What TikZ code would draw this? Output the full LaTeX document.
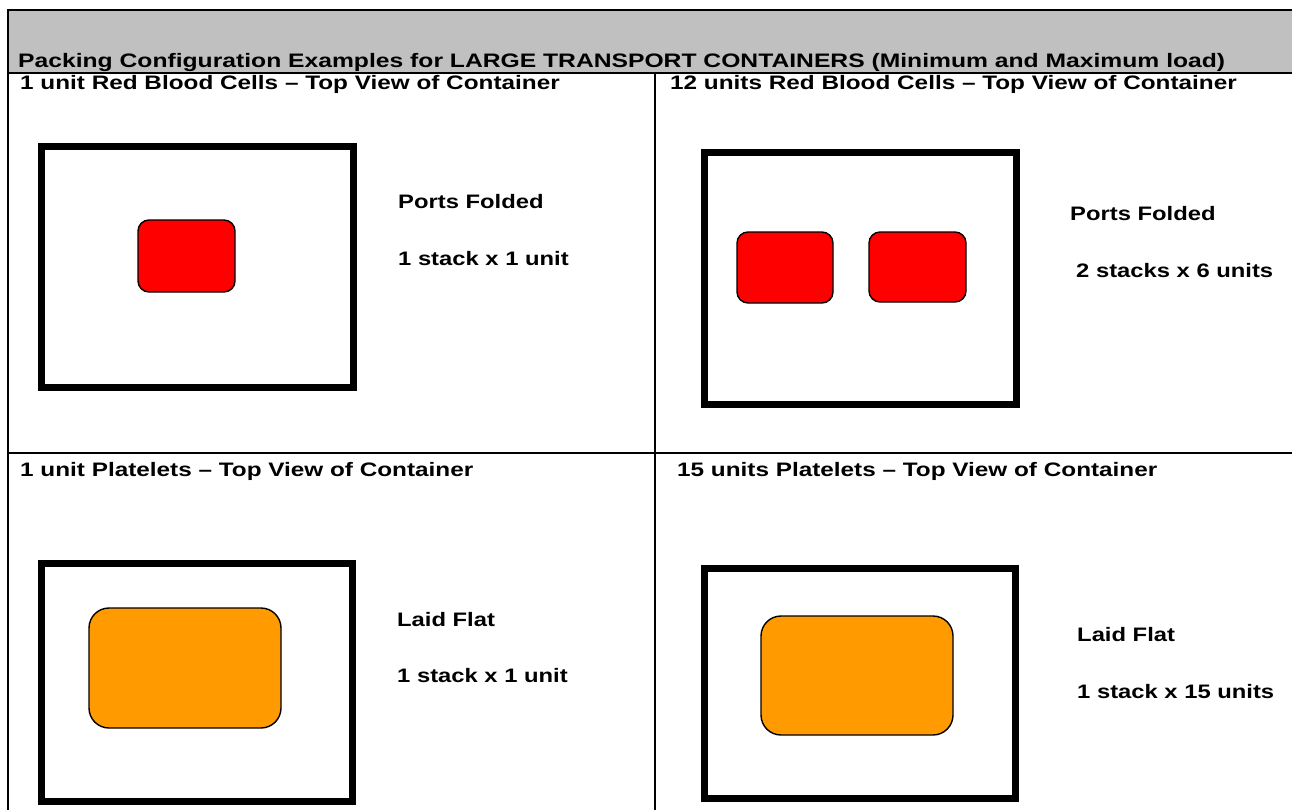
\documentclass[tikz,border=0pt]{standalone}
\usepackage{fontspec}
\setmainfont{Liberation Sans}
\newfontfamily\titlefont[FakeStretch=1.265]{Liberation Sans}
\newfontfamily\headfont[FakeStretch=1.247]{Liberation Sans}
\newfontfamily\notefont[FakeStretch=1.22]{Liberation Sans}
\begin{document}
\begin{tikzpicture}[x=1pt,y=-1pt,
  rule/.style={line width=2.2pt,black},
  heading/.style={anchor=base west,inner sep=0pt,font=\headfont\bfseries\fontsize{19.5}{22}\selectfont},
  note/.style={anchor=base west,inner sep=0pt,font=\notefont\bfseries\fontsize{19.5}{22}\selectfont},
  crate/.style={draw=black,line width=7pt,fill=white,inner sep=0pt},
  rbc/.style={draw=black,line width=1.4pt,fill=red,rounded corners=11pt,inner sep=0pt},
  plt/.style={draw=black,line width=1.4pt,fill=pltorange,rounded corners=20pt,inner sep=0pt}]
\definecolor{pltorange}{HTML}{FF9A00}
\definecolor{headgray}{HTML}{C0C0C0}
\useasboundingbox (0,0) rectangle (1292,809);

% header band
\fill[headgray] (8,10) rectangle (1300,73);
\draw[rule] (8,830) -- (8,10) -- (1300,10);
\draw[rule] (8,73) -- (1300,73);
\draw[rule] (8,453) -- (1300,453);
\draw[rule] (655,73) -- (655,830);

\node[heading,font=\titlefont\bfseries\fontsize{19.5}{22}\selectfont] (title) at (18,67.5) {Packing Configuration Examples for LARGE TRANSPORT CONTAINERS (Minimum and Maximum load)};
\node[heading] (h1) at (20,89) {1 unit Red Blood Cells – Top View of Container};
\node[heading] (h2) at (670,89) {12 units Red Blood Cells – Top View of Container};
\node[heading] (h3) at (20,476.5) {1 unit Platelets – Top View of Container};
\node[heading] (h4) at (677,476.5) {15 units Platelets – Top View of Container};

% top left: one red cell unit
\node[crate,minimum width=312pt,minimum height=241pt] (c1) at (197.5,267) {};
\node[rbc,minimum width=97pt,minimum height=72pt] (r1) at (186.5,256) {};
\node[note] (t1a) at (398,208) {Ports Folded};
\node[note] (t1b) at (398,265) {1 stack x 1 unit};

% top right: two stacks of red cells
\node[crate,minimum width=312pt,minimum height=252pt] (c2) at (860.5,278.5) {};
\node[rbc,minimum width=96pt,minimum height=71pt] (r2a) at (785,267.5) {};
\node[rbc,minimum width=97pt,minimum height=70pt] (r2b) at (917.5,267) {};
\node[note] (t2a) at (1070,220) {Ports Folded};
\node[note] (t2b) at (1076,277) {2 stacks x 6 units};

% bottom left: one platelet unit
\node[crate,minimum width=311pt,minimum height=238pt] (c3) at (197,682) {};
\node[plt,minimum width=192pt,minimum height=120pt] (p3) at (185,668) {};
\node[note] (t3a) at (397,626) {Laid Flat};
\node[note] (t3b) at (397,682) {1 stack x 1 unit};

% bottom right: fifteen platelet units
\node[crate,minimum width=311pt,minimum height=230pt] (c4) at (860,683.5) {};
\node[plt,minimum width=192pt,minimum height=119pt] (p4) at (857,675.5) {};
\node[note] (t4a) at (1077,641) {Laid Flat};
\node[note] (t4b) at (1077,698) {1 stack x 15 units};
\end{tikzpicture}
\end{document}
